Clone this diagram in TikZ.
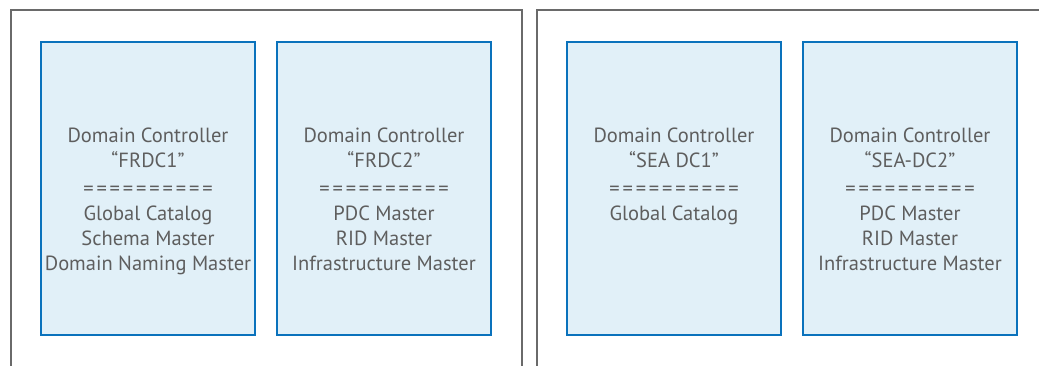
\documentclass[tikz,border=0pt]{standalone}
\usepackage{fontspec}
\setmainfont{PT Sans}
\definecolor{framegray}{HTML}{6A6A6A}
\definecolor{dcblue}{HTML}{0A72BC}
\definecolor{dcfill}{HTML}{E1F0F8}
\definecolor{dctext}{HTML}{5E5E5E}
\newcommand{\ruleline}{{\addfontfeature{LetterSpace=14}==========}}
\begin{document}
\begin{tikzpicture}[x=1pt,y=-1pt,
  site/.style={draw=framegray,line width=2pt},
  dcbox/.style={draw=dcblue,fill=dcfill,line width=2pt,minimum width=214pt,minimum height=292pt,inner sep=0pt},
  dclabel/.style={anchor=north,align=center,inner sep=0pt,text=dctext,
    font=\fontsize{20.5}{25}\selectfont}]
\useasboundingbox (0,0) rectangle (1039,366);
% two site frames, open at the bottom (and at the right)
\draw[site] (10.5,366) -- (10.5,10.5) -- (521.5,10.5) -- (521.5,366);
\draw[site] (536.5,366) -- (536.5,10.5) -- (1039,10.5);
% domain controllers
\node[dcbox] (dc1) at (148,188.5) {};
\node[dcbox] (dc2) at (384,188.5) {};
\node[dcbox] (dc3) at (674,188.5) {};
\node[dcbox] (dc4) at (910,188.5) {};
\node[dclabel] (t1) at (148,128) {Domain Controller\\“FRDC1”\\[3pt]\ruleline\\Global Catalog\\Schema Master\\Domain Naming Master};
\node[dclabel] (t2) at (384,128) {Domain Controller\\“FRDC2”\\[3pt]\ruleline\\PDC Master\\RID Master\\Infrastructure Master};
\node[dclabel] (t3) at (674,128) {Domain Controller\\“SEA DC1”\\[3pt]\ruleline\\Global Catalog};
\node[dclabel] (t4) at (910,128) {Domain Controller\\“SEA-DC2”\\[3pt]\ruleline\\PDC Master\\RID Master\\Infrastructure Master};
\end{tikzpicture}
\end{document}
